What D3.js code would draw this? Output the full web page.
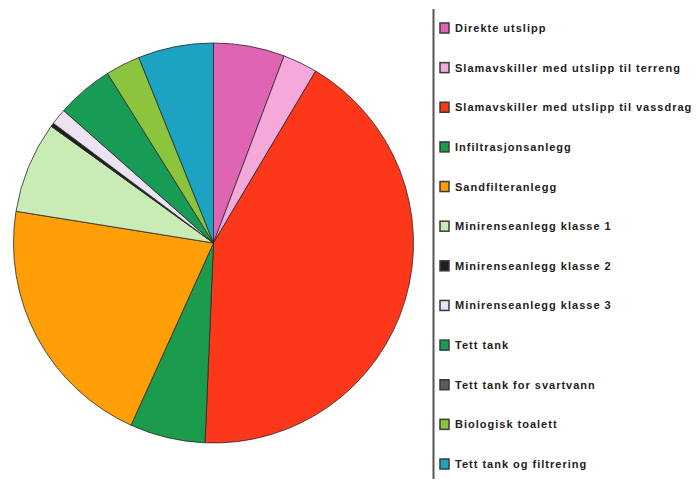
<!DOCTYPE html>
<html>
<head>
<meta charset="utf-8">
<script src="https://cdn.jsdelivr.net/npm/d3@7/dist/d3.min.js"></script>
<style>
  html, body { margin: 0; padding: 0; background: #fff; }
  svg { display: block; }
</style>
</head>
<body>
<svg id="chart" width="698" height="480"></svg>
<script>
// Avløpsløsninger – andel per anleggstype (prosent)
const categories = [
  "Direkte utslipp",
  "Slamavskiller med utslipp til terreng",
  "Slamavskiller med utslipp til vassdrag",
  "Infiltrasjonsanlegg",
  "Sandfilteranlegg",
  "Minirenseanlegg klasse 1",
  "Minirenseanlegg klasse 2",
  "Minirenseanlegg klasse 3",
  "Tett tank",
  "Tett tank for svartvann",
  "Biologisk toalett",
  "Tett tank og filtrering"
];
const shares = [5.75, 2.8, 42.2, 6.1, 20.8, 7.4, 0.3, 1.3, 4.6, 0, 2.8, 6.1];
const colors = [
  "#e064b4", "#f5a8da", "#fd3719", "#1b9b4b", "#ff9e06", "#c9ebb6",
  "#1e1e1e", "#ebe2f2", "#179b55", "#5a5a5a", "#8cc53d", "#1ca3c2"
];

const data = categories.map((c, i) => ({ name: c, value: shares[i], color: colors[i] }));

const svg = d3.select("#chart");

// Pie
const cx = 213.5, cy = 243, radius = 200;
const pie = d3.pie().sort(null).value(d => d.value).startAngle(0).endAngle(2 * Math.PI);
const arc = d3.arc().innerRadius(0).outerRadius(radius);

svg.append("g")
  .attr("transform", `translate(${cx},${cy})`)
  .selectAll("path")
  .data(pie(data).filter(d => d.data.value > 0))
  .join("path")
  .attr("d", arc)
  .attr("fill", d => d.data.color)
  .attr("stroke", "#2a2a2a")
  .attr("stroke-width", 0.8)
  .attr("stroke-linejoin", "round");

// Legend separator
svg.append("line")
  .attr("x1", 433.5).attr("x2", 433.5)
  .attr("y1", 9).attr("y2", 479)
  .attr("stroke", "#555")
  .attr("stroke-width", 2);

// Legend
const rowY = d3.scalePoint().domain(categories).range([28, 464]);
const legend = svg.append("g")
  .selectAll("g")
  .data(data)
  .join("g")
  .attr("transform", d => `translate(440,${rowY(d.name)})`);

legend.append("rect")
  .attr("x", 0).attr("y", -5)
  .attr("width", 9).attr("height", 10)
  .attr("fill", d => d.color)
  .attr("stroke", "#3a3a3a")
  .attr("stroke-width", 1.5);

legend.append("text")
  .attr("x", 15)
  .attr("y", 4)
  .attr("font-family", "'Liberation Sans', Arial, sans-serif")
  .attr("font-weight", "bold")
  .attr("font-size", 11)
  .attr("letter-spacing", 1.0)
  .attr("fill", "#222")
  .text(d => d.name);
</script>
</body>
</html>
